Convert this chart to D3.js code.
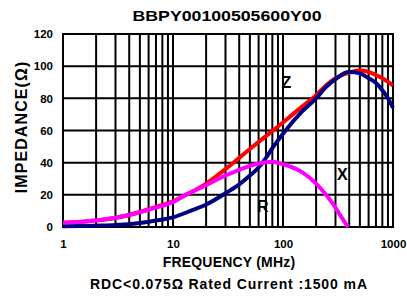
<!DOCTYPE html>
<html>
<head>
<meta charset="utf-8">
<script src="https://cdn.jsdelivr.net/npm/d3@7"></script>
<style>
  body { margin: 0; background: #fff; }
  svg text { font-family: "Liberation Sans", Arial, sans-serif; font-weight: bold; fill: #000; }
</style>
</head>
<body>
<svg id="chart" width="407" height="300"></svg>
<script>
// Z curve (MHz / ohm)
const zFreqs = [1, 2, 4, 7, 10, 15, 20, 30, 40, 50, 70, 100, 150, 200, 250, 300, 400, 500, 600, 700, 800, 1000];
const zVals  = [2.7, 4, 7.5, 12.5, 16, 22, 27, 36, 43, 48.5, 56.5, 65, 75, 82, 88.5, 92.5, 96, 97.5, 96.5, 94.5, 92.5, 88];
// R curve
const rFreqs = [1, 2, 3, 5, 7, 10, 15, 20, 30, 40, 50, 60, 70, 80, 100, 150, 200, 250, 300, 400, 500, 600, 700, 800, 900, 1000];
const rVals  = [0.4, 0.8, 1.2, 2.5, 4, 6, 10.5, 14, 21, 26.5, 32, 37, 43, 49, 58, 72, 80, 87.5, 92, 96.5, 95.5, 92.5, 89.5, 85, 80, 74];
// X curve, ends where it drops to zero
const xFreqs = [1, 2, 4, 7, 10, 13, 15, 20, 30, 40, 50, 60, 80, 100, 150, 200, 250, 300, 330, 360, 390];
const xVals  = [2.7, 4, 7.5, 12, 15.5, 20, 22, 26, 32, 35.5, 38, 39.5, 40.5, 39, 34, 27, 19.5, 12, 7.5, 3.5, 0];

const yTicks = [0, 20, 40, 60, 80, 100, 120];
const xTicks = [1, 10, 100, 1000];

const margin = {top: 34, right: 14, bottom: 73, left: 63};
const width = 407 - margin.left - margin.right;
const height = 300 - margin.top - margin.bottom;

const svg = d3.select("#chart");
const g = svg.append("g").attr("transform", "translate(" + margin.left + "," + margin.top + ")");

const xScale = d3.scaleLog().domain([1, 1000]).range([0, width]);
const yScale = d3.scaleLinear().domain([0, 120]).range([height, 0]);

// log grid: 1..9 in every decade
let gridX = [];
for (let d = 1; d < 1000; d *= 10) {
  for (let k = 1; k <= 9; k++) gridX.push(d * k);
}
gridX.push(1000);

g.append("g").selectAll("line").data(gridX).join("line")
  .attr("x1", d => xScale(d)).attr("x2", d => xScale(d))
  .attr("y1", 0).attr("y2", height)
  .attr("stroke", "#000").attr("stroke-width", 2);

g.append("g").selectAll("line").data(yTicks).join("line")
  .attr("x1", 0).attr("x2", width)
  .attr("y1", d => yScale(d)).attr("y2", d => yScale(d))
  .attr("stroke", "#000").attr("stroke-width", 2);

g.append("rect").attr("x", 0).attr("y", 0).attr("width", width).attr("height", height)
  .attr("fill", "none").attr("stroke", "#000").attr("stroke-width", 2);

const yAxis = d3.axisLeft(yScale).tickValues(yTicks).tickSize(0).tickPadding(10);
const yG = g.append("g").call(yAxis);
yG.select(".domain").remove();
yG.selectAll("text").attr("font-size", 11.5);

const xAxis = d3.axisBottom(xScale).tickValues(xTicks).tickFormat(d3.format("d")).tickSize(0).tickPadding(13);
const xG = g.append("g").attr("transform", "translate(0," + height + ")").call(xAxis);
xG.select(".domain").remove();
xG.selectAll("text").attr("font-size", 11.5);

const line = (fs) => d3.line()
  .x((d, i) => xScale(fs[i]))
  .y(d => yScale(d))
  .curve(d3.curveMonotoneX);

g.append("path").datum(zVals).attr("fill", "none").attr("stroke", "#ff0000")
  .attr("stroke-width", 4).attr("d", line(zFreqs));
g.append("path").datum(rVals).attr("fill", "none").attr("stroke", "#000080")
  .attr("stroke-width", 4).attr("d", line(rFreqs));
g.append("path").datum(xVals).attr("fill", "none").attr("stroke", "#ff00ff")
  .attr("stroke-width", 4).attr("d", line(xFreqs));

// curve labels
g.append("text").attr("x", xScale(97)).attr("y", yScale(86.6)).attr("font-size", 16).text("Z");
g.append("text").attr("x", xScale(310)).attr("y", yScale(29)).attr("font-size", 16).text("X");
g.append("text").attr("x", xScale(58)).attr("y", yScale(9.5)).attr("font-size", 16).text("R");

// titles
svg.append("text").attr("x", 227).attr("y", 20.7).attr("text-anchor", "middle")
  .attr("font-size", 15.5).attr("textLength", 189).attr("lengthAdjust", "spacingAndGlyphs")
  .text("BBPY00100505600Y00");
svg.append("text").attr("x", 229).attr("y", 267.3).attr("text-anchor", "middle")
  .attr("font-size", 14).attr("letter-spacing", 0.2).text("FREQUENCY (MHz)");
svg.append("text").attr("x", 228.5).attr("y", 289).attr("text-anchor", "middle")
  .attr("font-size", 14).attr("textLength", 277).attr("lengthAdjust", "spacing")
  .text("RDC<0.075Ω Rated Current :1500 mA");
svg.append("text").attr("transform", "translate(27,127) rotate(-90)").attr("text-anchor", "middle")
  .attr("font-size", 16).attr("letter-spacing", 1.1).text("IMPEDANCE(Ω)");
</script>
</body>
</html>
